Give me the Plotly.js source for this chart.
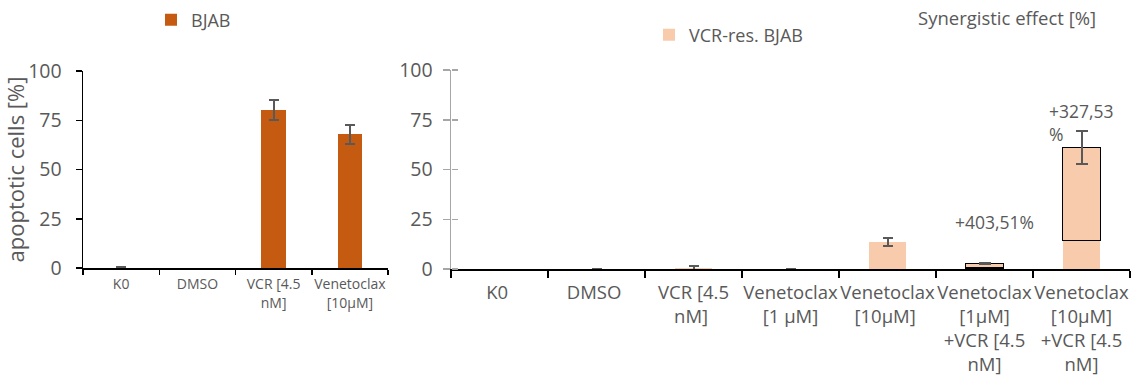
<!DOCTYPE html>
<html>
<head>
<meta charset="utf-8">
<script src="https://cdn.plot.ly/plotly-3.0.1.min.js"></script>
<style>html,body{margin:0;padding:0;background:#fff;}#chart{width:1132px;height:380px;}</style>
</head>
<body>
<div id="chart"></div>
<script>
// ---- data ----
const leftCategories = ['K0', 'DMSO', 'VCR [4.5<br>nM]', 'Venetoclax<br>[10µM]'];
const bjabMean = [0.2, -0.4, 80.2, 68.0];
const bjabSD = [0.4, 0, 5.2, 4.8];

const rightCategories = ['K0 ', 'DMSO ', 'VCR [4.5<br>nM] ', 'Venetoclax<br>[1 µM]', 'Venetoclax<br>[10µM] ',
  'Venetoclax<br>[1µM]<br>+VCR [4.5<br>nM]', 'Venetoclax<br>[10µM]<br>+VCR [4.5<br>nM]'];
const resMean = [0, 0, 0.4, 0, 13.6, 2.7, 61.1];
const resSD = [NaN, 0.1, 0.9, 0.1, 1.8, 0.2, 8.3];
// expected (additive) response for the combinations; the remainder is the synergistic part
const expectedAdditive = [null, null, null, null, null, 0.54, 14.3];
const synergyLabels = ['+403,51%', '+327,53<br>%'];
const synergyTitle = 'Synergistic effect [%]';

// ---- derived ----
const isCombo = expectedAdditive.map(v => v !== null);
const baseVals = resMean.map((v, i) => isCombo[i] ? expectedAdditive[i] : v);
const baseErr = resSD.map((v, i) => isCombo[i] ? NaN : v);
const synVals = resMean.map((v, i) => isCombo[i] ? v - expectedAdditive[i] : null);
const synErr = resSD.map((v, i) => isCombo[i] ? v : NaN);
const comboCats = rightCategories.filter((c, i) => isCombo[i]);
const comboTops = resMean.filter((v, i) => isCombo[i]);

const FONT = '"Open Sans", "Noto Sans", sans-serif';
const TXT = '#595959';
const DARK = '#C55A11';
const PEACH = '#F8CBAD';
const ERR = '#595959';

const W = 1132, H = 380, ML = 40;
const px = v => (v - ML) / (W - ML);
const py = v => 1 - v / H;

const traces = [
  {
    type: 'bar', name: 'BJAB', x: leftCategories, y: bjabMean,
    xaxis: 'x', yaxis: 'y', width: 0.32,
    marker: {color: DARK},
    error_y: {type: 'data', array: bjabSD, color: ERR, thickness: 2, width: 5},
    legend: 'legend', hoverinfo: 'x+y'
  },
  {
    type: 'bar', name: 'VCR-res. BJAB', x: rightCategories, y: baseVals,
    xaxis: 'x2', yaxis: 'y2', width: 0.39,
    marker: {color: PEACH},
    error_y: {type: 'data', array: baseErr, color: ERR, thickness: 2, width: 5},
    legend: 'legend2'
  },
  {
    type: 'bar', name: 'synergy', x: rightCategories, y: synVals,
    xaxis: 'x2', yaxis: 'y2', width: 0.39,
    marker: {color: PEACH, line: {color: '#000', width: 1.5}},
    error_y: {type: 'data', array: synErr, color: ERR, thickness: 2, width: 6},
    showlegend: false
  },
  {
    type: 'bar', x: [], y: [], xaxis: 'x2', yaxis: 'y3', showlegend: false, hoverinfo: 'skip'
  }
];

const layout = {
  width: W, height: H,
  margin: {l: ML, r: 0, t: 0, b: 0},
  paper_bgcolor: '#fff', plot_bgcolor: 'rgba(0,0,0,0)',
  font: {family: FONT, color: TXT, size: 18},
  barmode: 'stack',
  xaxis: {
    domain: [px(83), px(388)], anchor: 'y', type: 'category',
    showline: true, linecolor: '#000', linewidth: 1.5,
    ticks: 'outside', tickson: 'boundaries', ticklen: 5, tickcolor: '#000', tickwidth: 1.5,
    tickfont: {size: 14, color: TXT}, ticklabelstandoff: 3, tickangle: 0,
    showgrid: false, zeroline: false, fixedrange: true
  },
  yaxis: {
    domain: [py(268), py(71)], anchor: 'x', range: [0, 100],
    tickvals: [0, 25, 50, 75, 100],
    showline: true, linecolor: '#000', linewidth: 1.5,
    ticks: 'outside', ticklen: 6, tickcolor: '#000', tickwidth: 1.5,
    tickfont: {size: 19.5, color: TXT}, ticklabelstandoff: 10,
    showgrid: false, zeroline: false,
    title: {text: 'apoptotic cells [%]', font: {size: 22, color: TXT}, standoff: 4}
  },
  xaxis2: {
    domain: [px(451), px(1130)], anchor: 'y2', type: 'category',
    showline: true, linecolor: '#000', linewidth: 1.5,
    ticks: 'outside', tickson: 'boundaries', ticklen: 7, tickcolor: '#000', tickwidth: 1.5,
    tickfont: {size: 18.5, color: TXT}, ticklabelstandoff: 6, tickangle: 0,
    showgrid: false, zeroline: false
  },
  yaxis2: {
    domain: [py(269), py(70)], anchor: 'x2', range: [0, 100],
    tickvals: [0, 25, 50, 75, 100],
    showline: true, linecolor: '#A6A6A6', linewidth: 1.5,
    ticks: 'outside', ticklen: 7, tickcolor: '#A6A6A6', tickwidth: 1.5,
    tickfont: {size: 19.5, color: TXT}, ticklabelstandoff: 6,
    showgrid: false, zeroline: false
  },
  yaxis3: {
    overlaying: 'y2', anchor: 'free', position: px(451), side: 'right', range: [0, 100],
    tickvals: [0, 25, 50, 75, 100], showticklabels: false,
    showline: false, ticks: 'outside', ticklen: 6, tickcolor: '#A6A6A6', tickwidth: 1.5,
    showgrid: false, zeroline: false
  },
  legend: {
    x: px(151), y: py(20), xanchor: 'left', yanchor: 'middle',
    font: {size: 18, color: TXT}, bgcolor: 'rgba(0,0,0,0)', itemclick: false
  },
  legend2: {
    x: px(649), y: py(35), xanchor: 'left', yanchor: 'middle',
    font: {size: 18, color: TXT}, bgcolor: 'rgba(0,0,0,0)', itemclick: false
  },
  annotations: [
    {xref: 'paper', yref: 'paper', x: px(916), y: py(17), xanchor: 'left', yanchor: 'middle',
     text: synergyTitle, showarrow: false, font: {size: 18.5, color: TXT}},
    {xref: 'x2', yref: 'y2', x: comboCats[0], y: comboTops[0], xshift: 10, yshift: 42, xanchor: 'center', yanchor: 'middle',
     text: synergyLabels[0], showarrow: false, font: {size: 17.5, color: TXT}},
    {xref: 'x2', yref: 'y2', x: comboCats[1], y: comboTops[1], xshift: -35, yshift: 25, xanchor: 'left', yanchor: 'middle',
     align: 'left', text: synergyLabels[1], showarrow: false, font: {size: 17.5, color: TXT}}
  ]
};

Plotly.newPlot('chart', traces, layout, {displayModeBar: false, staticPlot: true});
</script>
</body>
</html>
